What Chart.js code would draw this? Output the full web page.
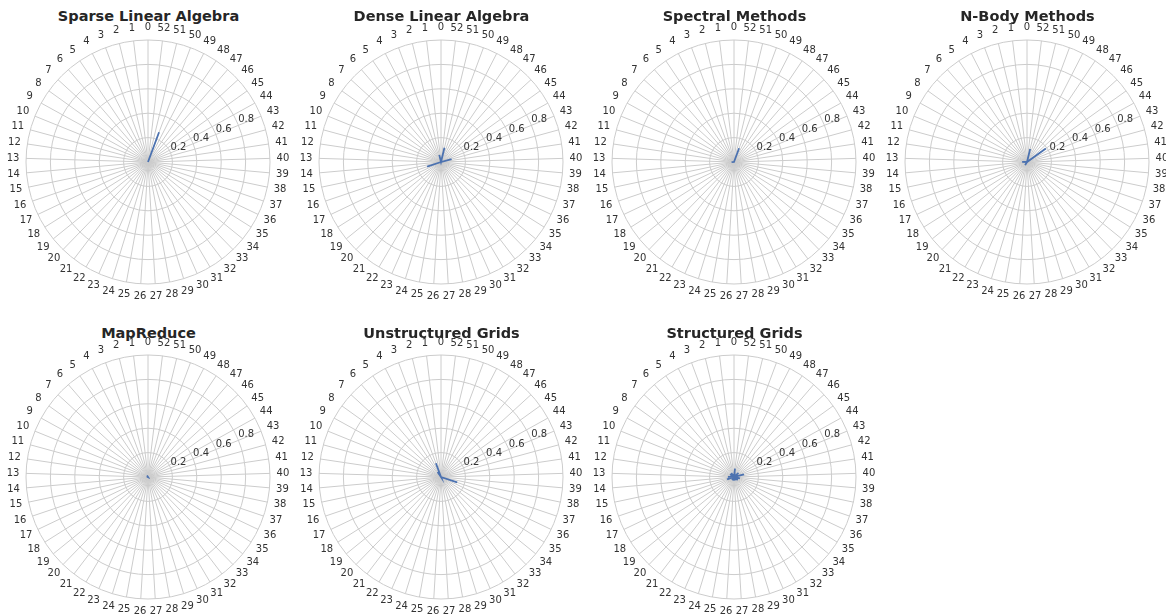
<!DOCTYPE html>
<html>
<head>
<meta charset="utf-8">
<script src="https://cdn.jsdelivr.net/npm/chart.js@4.4.1/dist/chart.umd.min.js"></script>
<style>
  html, body { margin: 0; padding: 0; background: #fff; }
  body { width: 1166px; height: 614px; position: relative; overflow: hidden; font-family: 'DejaVu Sans', sans-serif; }
  .title { position: absolute; width: 293px; text-align: center; font-weight: bold; font-size: 14.5px; color: #262626; }
  canvas { position: absolute; }
</style>
</head>
<body>
<script>
// ─── data ────────────────────────────────────────────────────────────────
// 53 axes, index 0..52 (matplotlib order: 0 at top, running counter-clockwise)
const AXES = Array.from({ length: 53 }, (_, i) => i);
const R_TICKS = [0.2, 0.4, 0.6, 0.8];

const TITLES = [
  'Sparse Linear Algebra', 'Dense Linear Algebra', 'Spectral Methods', 'N-Body Methods',
  'MapReduce', 'Unstructured Grids', 'Structured Grids',
];

//                0     1     2     3     4     5     6     7     8     9    10    11    12    13    14    15    16    17    18    19    20    21    22    23    24    25    26    27    28    29    30    31    32    33    34    35    36    37    38    39    40    41    42    43    44    45    46    47    48    49    50    51    52
const sparseLA  = [0,    0,    0,    0,    0,    0,    0,    0,    0,    0,    0,    0,    0,    0,    0,    0,    0,    0,    0,    0,    0,    0,    0,    0,    0,    0,    0,    0,    0,    0,    0,    0,    0,    0,    0,    0,    0,    0,    0,    0,    0,    0,    0,    0,    0,    0,    0,    0,    0,    0,    0.26, 0,    0];
const denseLA   = [0,    0,    0.06, 0,    0,    0,    0,    0,    0,    0,    0,    0,    0,    0,    0,    0,    0.12, 0,    0,    0,    0,    0,    0,    0,    0,    0,    0,    0,    0,    0,    0,    0,    0,    0,    0,    0,    0,    0,    0,    0,    0,    0,    0.09, 0,    0,    0,    0,    0,    0,    0,    0,    0.12, 0];
const spectral  = [0,    0,    0,    0,    0,    0,    0,    0,    0,    0,    0,    0,    0,    0,    0.02, 0,    0,    0,    0,    0,    0,    0,    0,    0,    0,    0,    0,    0,    0,    0,    0,    0,    0,    0,    0,    0,    0,    0,    0,    0,    0,    0,    0,    0,    0,    0,    0,    0,    0,    0,    0.12, 0,    0];
const nBody     = [0,    0,    0,    0,    0,    0,    0,    0,    0,    0,    0,    0,    0,    0.04, 0,    0,    0,    0,    0,    0,    0,    0,    0.03, 0,    0,    0,    0,    0,    0,    0,    0,    0,    0,    0,    0,    0,    0,    0,    0,    0,    0,    0,    0,    0,    0,    0.19, 0,    0,    0,    0,    0,    0.11, 0];
const mapReduce = [0,    0,    0,    0,    0,    0.015,0,    0,    0,    0,    0.01, 0,    0,    0,    0,    0,    0,    0,    0,    0,    0,    0,    0,    0,    0,    0,    0,    0,    0,    0,    0,    0,    0,    0,    0,    0,    0,    0,    0,    0,    0,    0,    0,    0,    0,    0,    0,    0,    0,    0,    0,    0,    0];
const unstruct  = [0,    0,    0,    0.12, 0,    0.05, 0,    0,    0,    0,    0,    0,    0,    0,    0,    0,    0,    0,    0,    0,    0,    0,    0,    0,    0,    0,    0,    0,    0,    0,    0,    0,    0,    0,    0,    0,    0,    0.14, 0,    0,    0,    0,    0,    0,    0,    0,    0,    0,    0,    0,    0,    0,    0];
const structGr  = [0,    0,    0,    0,    0,    0.04, 0,    0,    0.04, 0,    0,    0,    0,    0.05, 0,    0,    0.06, 0,    0,    0,    0,    0,    0.03, 0,    0,    0.03, 0,    0,    0,    0,    0.03, 0,    0,    0,    0.04, 0,    0,    0,    0.05, 0,    0,    0,    0.085,0,    0,    0,    0.05, 0,    0,    0,    0,    0,    0.07];

const SERIES = [sparseLA, denseLA, spectral, nBody, mapReduce, unstruct, structGr];

// ─── layout ──────────────────────────────────────────────────────────────
const COL_X = [148, 441, 734, 1027];
const ROW_Y = [162, 477];
const TITLE_Y = [8, 325];
const SIZE = 300;     // canvas side
const PAD = 28;       // leaves a 122px radius
const LABEL_GAP = 13; // axis label centre beyond outer circle

const C = {
  text: '#333333',
  grid: '#cccccc',
  line: '#4c72b0',
};

// Chart.js draws clockwise, reference runs counter-clockwise: reorder.
const ORDER = [0, ...AXES.slice(1).reverse()];

// Axis labels centred on their spoke, plus radial tick labels at 22.5°
const polarLabels = {
  id: 'polarLabels',
  afterDraw(chart) {
    const s = chart.scales.r;
    const ctx = chart.ctx;
    ctx.save();
    ctx.font = '10px "DejaVu Sans"';
    ctx.fillStyle = C.text;

    ctx.textAlign = 'center';
    ctx.textBaseline = 'middle';
    chart.data.labels.forEach((lbl, i) => {
      const p = s.getPointPosition(i, s.drawingArea + LABEL_GAP);
      ctx.fillText(lbl, p.x, p.y);
    });

    const a = 22.5 * Math.PI / 180;
    ctx.textAlign = 'left';
    ctx.textBaseline = 'bottom';
    R_TICKS.forEach(v => {
      const d = s.getDistanceFromCenterForValue(v);
      ctx.fillText(v.toFixed(1), s.xCenter + d * Math.cos(a), s.yCenter - d * Math.sin(a));
    });
    ctx.restore();
  },
};

function makeRadar(i) {
  const col = i % 4, row = Math.floor(i / 4);
  const cx = COL_X[col], cy = ROW_Y[row];

  const t = document.createElement('div');
  t.className = 'title';
  t.textContent = TITLES[i];
  t.style.left = (cx - 146) + 'px';
  t.style.top = TITLE_Y[row] + 'px';
  document.body.appendChild(t);

  const cv = document.createElement('canvas');
  cv.width = SIZE; cv.height = SIZE;
  cv.style.left = (cx - SIZE / 2) + 'px';
  cv.style.top = (cy - SIZE / 2) + 'px';
  document.body.appendChild(cv);

  new Chart(cv.getContext('2d'), {
    type: 'radar',
    data: {
      labels: ORDER.map(k => String(AXES[k])),
      datasets: [{
        data: ORDER.map(k => SERIES[i][k]),
        borderColor: C.line,
        borderWidth: 1.8,
        backgroundColor: 'transparent',
        fill: false,
        pointRadius: 0,
        tension: 0,
      }],
    },
    options: {
      responsive: false,
      animation: false,
      layout: { padding: PAD },
      plugins: { legend: { display: false }, tooltip: { enabled: false } },
      scales: {
        r: {
          min: 0, max: 1,
          ticks: { display: false, stepSize: 0.2 },
          grid: { circular: true, color: C.grid, lineWidth: 1 },
          angleLines: { color: C.grid, lineWidth: 1 },
          pointLabels: { display: false },
        },
      },
    },
    plugins: [polarLabels],
  });
}

TITLES.forEach((_, i) => makeRadar(i));
</script>
</body>
</html>
